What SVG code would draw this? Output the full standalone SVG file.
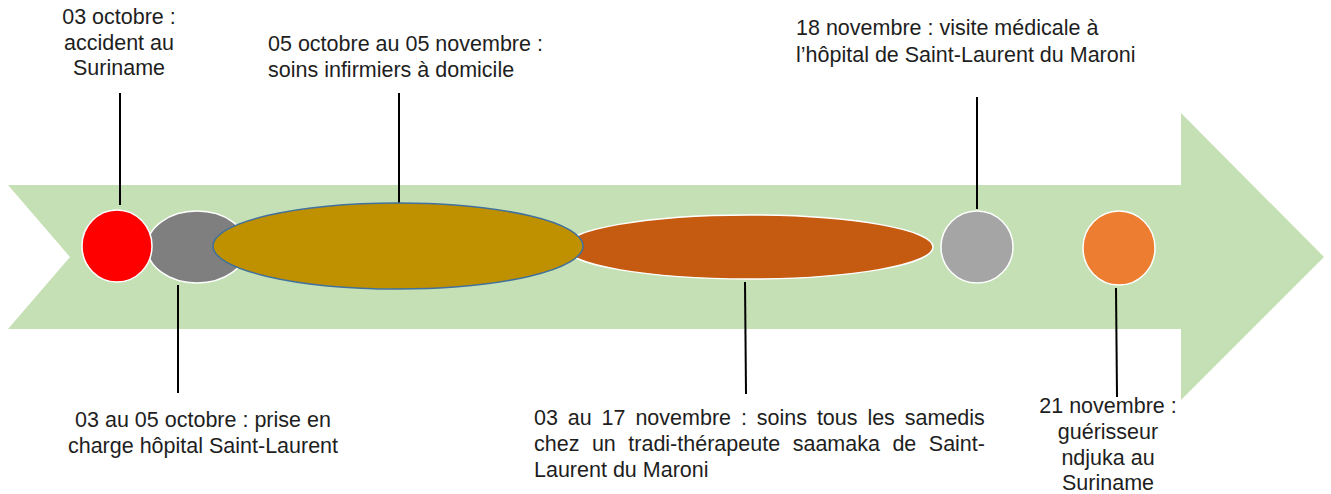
<svg xmlns="http://www.w3.org/2000/svg" width="1331" height="494" viewBox="0 0 1331 494">
<style>
text{font-family:"Liberation Sans",Arial,sans-serif;font-size:21.5px;fill:#1e1e1e}
.c{text-anchor:middle}
.lead{stroke:#000;stroke-width:2;fill:none}
.ev{stroke:#fff;stroke-width:1.5}
</style>
<rect width="1331" height="494" fill="#fff"/>
<g id="arrow">
<polygon points="8,185 1181,185 1181,113 1324,257 1181,400 1181,329 8,329 70,257" fill="#c5e0b4"/>
</g>
<g id="connectors">
<line class="lead" x1="120" y1="93" x2="120" y2="205"/>
<line class="lead" x1="399" y1="93" x2="399" y2="203"/>
<line class="lead" x1="178" y1="285" x2="178" y2="393"/>
<line class="lead" x1="745" y1="282" x2="746" y2="394"/>
<line class="lead" x1="977" y1="97" x2="977" y2="209"/>
<line class="lead" x1="1116" y1="288" x2="1117" y2="397"/>
</g>
<g id="n-hopital-sl">
<ellipse class="ev" cx="197" cy="247" rx="50" ry="36" fill="#7f7f7f"/>
<text class="c" x="203" y="427">03 au 05 octobre : prise en</text>
<text class="c" x="203" y="453">charge hôpital Saint-Laurent</text>
</g>
<g id="n-accident">
<ellipse class="ev" cx="117" cy="246" rx="35" ry="36" fill="#ff0000"/>
<text class="c" x="119" y="24">03 octobre :</text>
<text class="c" x="119" y="50">accident au</text>
<text class="c" x="119" y="75">Suriname</text>
</g>
<g id="n-tradi">
<ellipse class="ev" cx="749" cy="247" rx="184" ry="32" fill="#c55a11"/>
<text y="425"><tspan x="534">03</tspan><tspan x="567.8">au</tspan><tspan x="601.6">17</tspan><tspan x="635.4">novembre</tspan><tspan x="740.9">:</tspan><tspan x="756.8">soins</tspan><tspan x="816.9">tous</tspan><tspan x="867.4">les</tspan><tspan x="904.8">samedis</tspan></text>
<text y="451"><tspan x="534">chez</tspan><tspan x="591.9">un</tspan><tspan x="628.3">tradi-thérapeute</tspan><tspan x="792.7">saamaka</tspan><tspan x="892.4">de</tspan><tspan x="928.8">Saint-</tspan></text>
<text x="534" y="477">Laurent du Maroni</text>
</g>
<g id="n-infirmiers">
<ellipse cx="398" cy="246" rx="185" ry="43" fill="#bf9000" stroke="#41719c" stroke-width="1.5"/>
<text x="268" y="51">05 octobre au 05 novembre :</text>
<text x="268" y="77">soins infirmiers à domicile</text>
</g>
<g id="n-visite">
<ellipse class="ev" cx="977" cy="247" rx="36" ry="36" fill="#a5a5a5"/>
<text x="796" y="35">18 novembre : visite médicale à</text>
<text x="796" y="62">l’hôpital de Saint-Laurent du Maroni</text>
</g>
<g id="n-guerisseur">
<ellipse class="ev" cx="1119" cy="248" rx="36" ry="37" fill="#ed7d31"/>
<text class="c" x="1108" y="413">21 novembre :</text>
<text class="c" x="1108" y="439">guérisseur</text>
<text class="c" x="1108" y="465">ndjuka au</text>
<text class="c" x="1108" y="490">Suriname</text>
</g>
</svg>
